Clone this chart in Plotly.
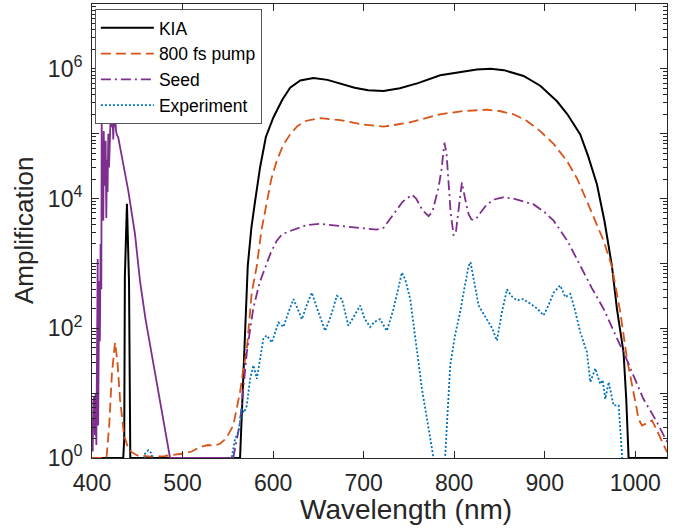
import numpy as np
import plotly.graph_objects as go

# ---------------- data (amplification given as log10 values) ----------------
kia_wl = [400, 434.5, 435.6, 436.3, 438.6, 440.9, 442.3, 450, 500, 563.5, 572, 576, 580, 585.6, 592,
          600.3, 610, 618.8, 630, 644.5, 660, 674, 690, 705, 722, 740, 760, 784.5, 810, 825, 840,
          855, 876.6, 895, 913.5, 925, 939.2, 948, 957.6, 966, 974.2, 979.7, 987, 990, 992.6, 1000, 1035]
kia_log = [0, 0, 0.3, 2.8, 3.92, 2.7, 0, 0, 0, 0, 2.96, 3.55, 3.95, 4.48, 4.95,
           5.25, 5.52, 5.71, 5.82, 5.86, 5.83, 5.77, 5.71, 5.67, 5.66, 5.70, 5.78, 5.90, 5.96, 5.99, 6.0,
           5.98, 5.89, 5.74, 5.50, 5.30, 4.99, 4.65, 4.22, 3.65, 2.96, 2.30, 1.63, 0.91, 0, 0, 0]

pump_wl = [400, 416, 419, 422, 425.4, 428, 431, 435.4, 440, 443.8, 450, 465, 480, 491.6, 501, 510,
           519.3, 528, 535, 541.4, 548, 556, 560, 563.5, 567, 571, 576.4, 582, 587, 593, 598, 604,
           611, 618.8, 627, 637, 652, 674, 700, 722, 750, 784.5, 810, 836, 850, 865.6, 880, 895, 910,
           924.5, 936, 946.6, 956, 965, 974, 983.4, 990.8, 998, 1003.7, 1007.4, 1012, 1018.4, 1022,
           1027.6, 1035]
pump_log = [0, 0, 0.5, 1.3, 1.78, 1.5, 0.9, 0.35, 0.15, 0.09, 0.04, 0.02, 0.03, 0.05, 0.07, 0.1,
            0.17, 0.2, 0.19, 0.22, 0.3, 0.5, 0.75, 1.02, 1.35, 1.68, 2.55, 2.96, 3.5, 3.96, 4.3, 4.58,
            4.82, 4.99, 5.12, 5.2, 5.24, 5.21, 5.14, 5.11, 5.17, 5.30, 5.35, 5.37, 5.35, 5.30, 5.2, 5.04,
            4.84, 4.58, 4.30, 3.96, 3.65, 3.35, 2.96, 2.25, 1.53, 1.02, 0.6, 0.5, 0.53, 0.58, 0.48,
            0.3, 0.09]

seed_left_wl = [400, 400.8, 401.5, 402.5, 403.2, 404, 404.8, 405.5, 406.3, 406.8, 407.5, 408, 408.7,
                409.5, 410.3, 410.7, 411.5, 412.5, 413, 413.8, 414.5, 415.1, 415.8, 416.5, 417.2, 418,
                418.8, 420, 421, 421.8, 422.5, 423.5, 424.3, 425, 425.8, 426.5, 427.3, 429, 434.6,
                440.1, 447.5, 453, 459, 465.9, 473, 480.7, 486.2, 500, 556]
seed_left_log = [0.63, 0.1, 0.9, 0.94, 0.35, 0.99, 0.2, 1.2, 3.07, 0.5, 2.0, 2.73, 1.8,
                 3.3, 2.6, 5.17, 4.0, 3.66, 5.04, 4.2, 4.5, 4.89, 3.7, 4.6, 4.1, 5.0,
                 4.48, 5.25, 5.45, 5.1, 5.35, 4.91, 5.3, 5.1, 5.25, 5.05, 4.99, 4.94, 4.53,
                 4.12, 3.45, 2.73, 2.15, 1.6, 1.05, 0.48, 0, 0, 0]

seed_wl = [556, 563.5, 571, 578, 585, 591, 597, 604, 610, 618.8, 637, 652, 674, 700, 714.5, 722, 733,
           743, 753.3, 758, 765, 771.7, 776, 782.7, 786, 789.2, 791.5, 793.7, 796, 799.3, 802, 805,
           808.5, 812, 815.9, 819, 823.2, 829, 836, 845, 854.5, 865, 876.6, 887.7, 899, 909.8, 925,
           939.2, 952, 965, 975, 983.4, 991, 998, 1009, 1017, 1024, 1035]
seed_log = [0, 0.55, 1.63, 2.3, 2.7, 2.93, 3.15, 3.35, 3.45, 3.5, 3.59, 3.61, 3.58, 3.54, 3.52, 3.55, 3.76,
            3.95, 4.06, 4.0, 3.82, 3.73, 3.8, 4.17, 4.45, 4.86, 4.7, 4.17, 3.8, 3.43, 3.5, 3.85,
            4.25, 4.0, 3.76, 3.68, 3.67, 3.78, 3.91, 3.99, 4.02, 4.0, 3.96, 3.91, 3.8, 3.66, 3.35,
            2.96, 2.62, 2.3, 2.0, 1.73, 1.5, 1.27, 0.91, 0.72, 0.55, 0.25]

exp_wl = [455, 458.6, 462.2, 466, 469, 552, 554.3, 558, 561.7, 565.4, 568, 571, 574.6, 578.3, 582, 585,
          589.3, 593, 598.6, 605.9, 611.4, 617, 622.5, 627, 631.7, 637, 642.7, 650, 657.5, 664, 670.4,
          676, 683.2, 690, 696.1, 701, 707.2, 712, 718.2, 725.6, 733, 738, 742.2, 746, 751.4, 758,
          764.3, 770, 777, 783, 790, 795.6, 801, 806.6, 811, 815.9, 818, 821, 827, 836, 842, 847.2,
          852, 858.2, 863, 869.2, 876, 884, 892, 898.7, 904, 909.8, 917.1, 922.7, 928.2, 933, 939.2,
          946.6, 950.3, 955.8, 961.3, 964, 966.9, 970.6, 973, 976, 981.6, 985.3, 988]
exp_log = [-0.5, 0.07, 0.12, 0.07, -0.5, -0.5, 0.0, 0.3, 0.4, 0.76, 0.7, 0.81, 1.22, 1.43, 1.22, 1.5,
           1.84, 1.89, 1.78, 2.09, 2.02, 2.25, 2.45, 2.3, 2.14, 2.35, 2.55, 2.25, 1.96, 2.2, 2.5,
           2.45, 2.04, 2.2, 2.35, 2.15, 2.02, 2.1, 2.14, 1.96, 2.3, 2.6, 2.86, 2.75, 2.45, 1.75,
           1.07, 0.6, 0.02, -0.5, 0.02, 1.43, 1.9, 2.25, 2.6, 2.96, 3.02, 2.8, 2.35, 2.14, 2.0, 1.81,
           2.2, 2.6, 2.5, 2.43, 2.45, 2.38, 2.3, 2.2, 2.35, 2.55, 2.66, 2.48, 2.53, 2.3, 1.94,
           1.63, 1.17, 1.38, 1.14, 1.2, 0.91, 1.17, 1.0, 0.81, 0.81, 0.0, -0.5]

x_ticks = [400, 500, 600, 700, 800, 900, 1000]
y_label_decades = [0, 2, 4, 6]
y_labels = ["10<sup>0</sup>", "10<sup>2</sup>", "10<sup>4</sup>", "10<sup>6</sup>"]
y_unlabeled_decades = [1, 3, 5, 7]

names = ["KIA", "800 fs pump", "Seed", "Experiment"]
colors = ["#000000", "#D95319", "#7E2F8E", "#0072BD"]
x_title = "Wavelength (nm)"
y_title = "Amplification"


def amp(v):
    return np.power(10.0, np.array(v, dtype=float))


FONT = "Liberation Sans, Arial, Helvetica, sans-serif"
TXT = "#262626"

fig = go.Figure()
fig.add_trace(go.Scatter(x=kia_wl, y=amp(kia_log), mode="lines", name=names[0],
                         line=dict(color=colors[0], width=2)))
fig.add_trace(go.Scatter(x=pump_wl, y=amp(pump_log), mode="lines", name=names[1],
                         line=dict(color=colors[1], width=1.8, dash="10px,5px")))
fig.add_trace(go.Scatter(x=seed_wl, y=amp(seed_log), mode="lines", name=names[2], legendgroup="seed",
                         line=dict(color=colors[2], width=1.8, dash="10px,4px,2px,4px")))
fig.add_trace(go.Scatter(x=seed_left_wl, y=amp(seed_left_log), mode="lines", name=names[2],
                         legendgroup="seed", showlegend=False,
                         line=dict(color=colors[2], width=1.8)))
fig.add_trace(go.Scatter(x=exp_wl, y=amp(exp_log), mode="lines", name=names[3],
                         line=dict(color=colors[3], width=1.8, dash="2px,2px")))
# empty trace that carries the secondary (unlabelled odd-decade tick) axis
fig.add_trace(go.Scatter(x=[], y=[], yaxis="y2", showlegend=False, hoverinfo="skip"))

axis_common = dict(showline=True, linecolor=TXT, linewidth=1, mirror="ticks", ticks="inside",
                   tickcolor=TXT, showgrid=False, zeroline=False,
                   tickfont=dict(family=FONT, size=23, color=TXT))

fig.update_layout(
    xaxis=dict(range=[400, 1035], tickvals=x_ticks, ticklen=7, ticklabelstandoff=4, **axis_common),
    yaxis=dict(type="log", range=[0, 7], tickvals=[10 ** d for d in y_label_decades], ticktext=y_labels,
               ticklen=7, ticklabelstandoff=4,
               minor=dict(ticks="inside", ticklen=4, tickcolor=TXT,
                          tickvals=[m * 10 ** d for d in range(7) for m in range(2, 10)]),
               **axis_common),
    yaxis2=dict(type="log", range=[0, 7], overlaying="y", side="left", anchor="x",
                tickvals=[10 ** d for d in y_unlabeled_decades], showticklabels=False,
                ticks="inside", ticklen=7, tickcolor=TXT, mirror="ticks", showline=True,
                linecolor=TXT, linewidth=1, showgrid=False, zeroline=False),
)

fig.add_annotation(text=x_title, xref="paper", yref="paper", x=(406 - 92) / 575, y=-(509 - 458) / 454,
                   xanchor="center", yanchor="middle", showarrow=False,
                   font=dict(family=FONT, size=28, color=TXT))
fig.add_annotation(text=y_title, xref="paper", yref="paper", x=(24 - 92) / 575, y=0.5,
                   xanchor="center", yanchor="middle", textangle=-90, showarrow=False,
                   font=dict(family=FONT, size=26, color=TXT))

fig.update_layout(
    width=682, height=530,
    margin=dict(l=92, r=15, t=4, b=72),
    paper_bgcolor="white", plot_bgcolor="white",
    font=dict(family=FONT, color=TXT),
    legend=dict(x=0.005, y=0.989, xanchor="left", yanchor="top",
                bgcolor="white", bordercolor="#555555", borderwidth=1,
                font=dict(family=FONT, size=17.5, color="#000000"),
                tracegroupgap=0, itemwidth=53),
    showlegend=True,
)

fig.write_html("out.html")
